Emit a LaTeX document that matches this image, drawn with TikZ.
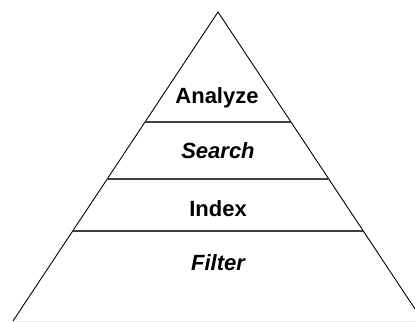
\documentclass[tikz,border=0pt]{standalone}
\usepackage{fontspec}
\setmainfont{Liberation Sans}
\usetikzlibrary{calc}

\begin{document}
\begin{tikzpicture}[x=1bp, y=1bp, every node/.style={font=\fontsize{22bp}{26bp}\selectfont\bfseries, anchor=base}, layer/.style={draw=black!75, line width=1.4bp}]
	\clip (0,0) rectangle (415,322);
	\coordinate (top) at (218,310); \coordinate (bl) at (13,1); \coordinate (br) at (423,1);
	% base and sides of the pyramid
	\draw[gray!15, line width=1bp] (bl) -- (br);
	\draw[line width=0.9bp] (bl) -- (top) -- (br);
	% borders between the layers
	\foreach \t in {0.291,0.4595,0.644} {\draw[layer] ($(bl)!\t!(top)$) -- ($(br)!\t!(top)$);}
	\node (analyze) at (217,219) {Analyze};
	\node (search) at (218,164) {\itshape Search};
	\node (index) at (218,106) {Index};
	\node (filter) at (218,52) {\itshape Filter};
\end{tikzpicture}
\end{document}
